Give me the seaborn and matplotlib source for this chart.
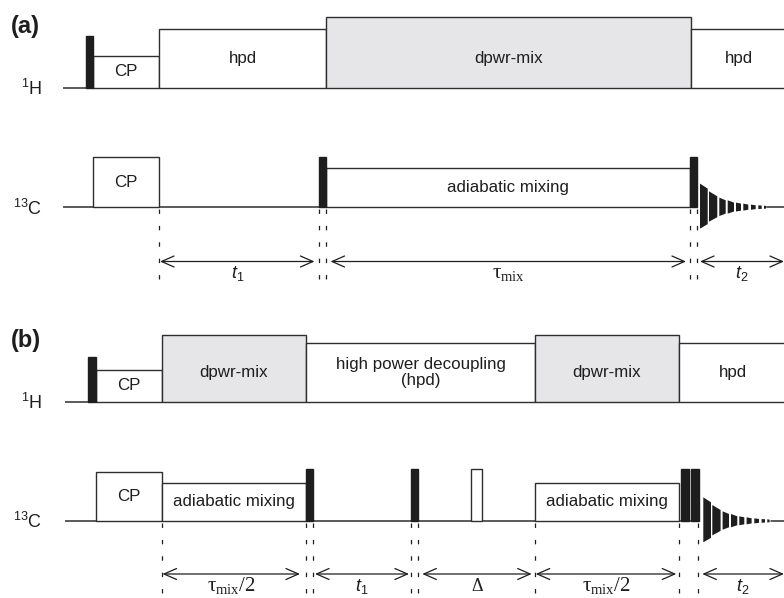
import matplotlib
matplotlib.use("Agg")
import matplotlib.pyplot as plt
import pandas as pd
import seaborn as sns

sns.set_theme(style="white")
plt.rcParams["font.family"] = ["Liberation Sans", "DejaVu Sans"]
plt.rcParams["mathtext.fontset"] = "custom"
plt.rcParams["mathtext.rm"] = "Liberation Serif"
plt.rcParams["mathtext.it"] = "Liberation Sans:italic"
plt.rcParams["mathtext.sf"] = "Liberation Sans"
plt.rcParams["lines.scale_dashes"] = False

# ---------------------------------------------------------------------------
# Pulse programme, time runs left to right in drawing units
# ---------------------------------------------------------------------------
# (a) 1H channel
a_h_start = [86, 93, 159, 326, 691]
a_h_stop = [93, 159, 326, 691, 786]
a_h_amp = [52, 32, 59, 71, 59]
a_h_kind = ["pulse", "box", "box", "shaded", "box"]
a_h_label = ["", "CP", "hpd", "dpwr-mix", "hpd"]
# (a) 13C channel
a_c_start = [93, 319.5, 326, 690]
a_c_stop = [159, 326, 690, 697.5]
a_c_amp = [50, 50, 39.5, 50]
a_c_kind = ["box", "pulse", "box", "pulse"]
a_c_label = ["CP", "", "adiabatic mixing", ""]

# (b) 1H channel
b_h_start = [88.5, 96, 162, 306, 535, 679]
b_h_stop = [96, 162, 306, 535, 679, 787]
b_h_amp = [44.5, 31.7, 66.7, 58.4, 66.7, 58.4]
b_h_kind = ["pulse", "box", "shaded", "box", "shaded", "box"]
b_h_label = ["", "CP", "dpwr-mix", "high power decoupling\n(hpd)", "dpwr-mix", "hpd"]
# (b) 13C channel
b_c_start = [96, 162, 306, 411, 471.5, 535, 681, 691.5]
b_c_stop = [162, 306, 312.7, 418.3, 481.7, 679, 689, 699.3]
b_c_amp = [49.3, 38.3, 51.7, 51.7, 51.7, 38.3, 51.7, 51.7]
b_c_kind = ["box", "box", "pulse", "pulse", "box", "box", "pulse", "pulse"]
b_c_label = ["CP", "adiabatic mixing", "", "", "", "adiabatic mixing", "", ""]

# channel names and their baselines
channels = ["$^{\\mathsf{1}}\\mathsf{H}$", "$^{\\mathsf{13}}\\mathsf{C}$"]
a_baselines = [87.7, 207.3]
b_baselines = [401.7, 521.0]
a_line_start = 63
b_line_start = 65

# FID decay envelope: bands (offset from acquisition start) and amplitudes
fid_band_start = [0, 9, 19.3, 27.7, 36, 43.3, 51, 58.3, 64]
fid_band_stop = [7.7, 17.3, 25.7, 34, 41, 48.3, 55.7, 61.7, 66.3]
fid_amp_in = [23.7, 16, 9.7, 7, 4.7, 3.7, 2.7, 2.0, 1.7]
fid_amp_out = [18.7, 11, 7, 4.7, 3.7, 2.7, 2.0, 1.7, 1.3]
a_acq_start = 700
b_acq_start = 703.3

# timing markers and delay arrows
a_marks = [159, 319.5, 326, 690.5, 697.5]
b_marks = [162, 306, 313, 411, 418, 535, 679.5, 698.5]
a_delay_from = [160, 330.5, 700]
a_delay_to = [314.5, 686, 784]
a_delay_label = ["$t_{\\mathsf{1}}$", "$\\mathrm{\\tau_{mix}}$", "$t_{\\mathsf{2}}$"]
b_delay_from = [162.5, 315, 422.3, 535.7, 702.3]
b_delay_to = [300, 409, 531.7, 676.3, 784]
b_delay_label = ["$\\mathrm{\\tau_{mix}/2}$", "$t_{\\mathsf{1}}$", "$\\mathrm{\\Delta}$",
                 "$\\mathrm{\\tau_{mix}/2}$", "$t_{\\mathsf{2}}$"]


def table(start, stop, amp, kind, label):
    return pd.DataFrame({"start": start, "stop": stop, "amp": amp,
                         "kind": kind, "label": label})


INK = "#1e1e1e"
EDGE = "#2e2e2e"
SHADE = "#e6e6e8"
LABEL_CAP = 59

fig = plt.figure(figsize=(7.84, 5.98), dpi=100)
ax = fig.add_axes([0, 0, 1, 1])
ax.set_xlim(0, 784)
ax.set_ylim(598, 0)
ax.axis("off")


def draw_channel(df, base, x0, line_stop=784):
    ax.plot([x0, line_stop], [base, base], color=EDGE, lw=1.1,
            solid_capstyle="butt", zorder=1)
    for _, r in df.iterrows():
        if r.kind == "pulse":
            fc, ec = INK, INK
        elif r.kind == "shaded":
            fc, ec = SHADE, EDGE
        else:
            fc, ec = "white", EDGE
        ax.bar(r.start, -r.amp, width=r.stop - r.start, bottom=base,
               align="edge", color=fc, edgecolor=ec, linewidth=1.0,
               zorder=3 if r.kind == "pulse" else 2)
        if r.label:
            ax.text((r.start + r.stop) / 2, base - min(r.amp, LABEL_CAP) / 2,
                    r.label, ha="center", va="center", fontsize=12.2,
                    color=INK, linespacing=1.12, zorder=4)


def draw_fid(base, x_start):
    for s, e, ai, ao in zip(fid_band_start, fid_band_stop, fid_amp_in, fid_amp_out):
        ax.fill([x_start + s, x_start + e, x_start + e, x_start + s],
                [base - ai, base - ao, base + ao * 0.9, base + ai * 0.9],
                color=INK, lw=0, zorder=3)
    tail = x_start + fid_band_stop[-1] + 1
    ax.plot([tail, 784], [base, base], color=EDGE, lw=1.1, zorder=1)


def draw_delays(marks, y_top, y_bot, arrow_y, d_from, d_to, d_label, text_y, fs):
    for m in marks:
        ax.plot([m, m], [y_top + 1.5, y_bot], color=INK, lw=0.9,
                linestyle=(0, (3.2, 8.6)), zorder=1)
    for x0, x1, lab, f in zip(d_from, d_to, d_label, fs):
        ax.annotate("", xy=(x1, arrow_y), xytext=(x0, arrow_y),
                    arrowprops=dict(arrowstyle="<->,head_length=0.75,head_width=0.33",
                                    lw=0.9, color=INK, shrinkA=0, shrinkB=0))
        ax.text((x0 + x1) / 2, text_y, lab, ha="center", va="baseline",
                fontsize=f, color=INK)


# panel (a)
draw_channel(table(a_h_start, a_h_stop, a_h_amp, a_h_kind, a_h_label),
             a_baselines[0], a_line_start)
draw_channel(table(a_c_start, a_c_stop, a_c_amp, a_c_kind, a_c_label),
             a_baselines[1], a_line_start, line_stop=697.5)
draw_fid(a_baselines[1], a_acq_start)
draw_delays(a_marks, a_baselines[1], 280, 261.5, a_delay_from, a_delay_to,
            a_delay_label, 278, [13, 15, 13])

# panel (b)
draw_channel(table(b_h_start, b_h_stop, b_h_amp, b_h_kind, b_h_label),
             b_baselines[0], b_line_start)
draw_channel(table(b_c_start, b_c_stop, b_c_amp, b_c_kind, b_c_label),
             b_baselines[1], b_line_start, line_stop=699.3)
draw_fid(b_baselines[1], b_acq_start)
draw_delays(b_marks, b_baselines[1], 598, 574, b_delay_from, b_delay_to,
            b_delay_label, 591, [15, 13, 13, 15, 13])

# channel names and panel letters
for bases in (a_baselines, b_baselines):
    for name, base in zip(channels, bases):
        ax.text(42, base + 7.5, name, ha="right", va="baseline",
                fontsize=13, color=INK)
ax.text(11, 26, "(a)", ha="left", va="center", fontsize=17,
        fontweight="bold", color=INK)
ax.text(11, 340, "(b)", ha="left", va="center", fontsize=17,
        fontweight="bold", color=INK)

fig.savefig("out.png", dpi=100)
